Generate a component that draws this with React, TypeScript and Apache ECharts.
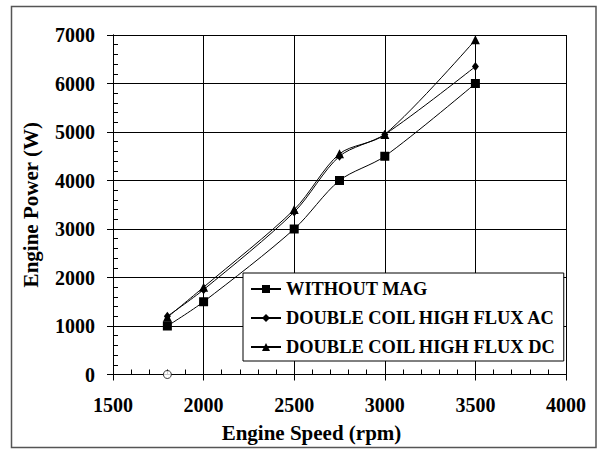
import React, { useEffect, useRef } from "react";
import * as echarts from "echarts";

const speeds = [1800, 2000, 2500, 2750, 3000, 3500];
const withoutMag = [1000, 1500, 3000, 4000, 4500, 6000];
const coilAC = [1200, 1750, 3350, 4500, 4950, 6350];
const coilDC = [1180, 1800, 3400, 4550, 4950, 6900];
const strayPoint = [[1800, 0]];
const seriesNames = ["WITHOUT MAG", "DOUBLE COIL HIGH FLUX AC", "DOUBLE COIL HIGH FLUX DC"];

const FONT = "Liberation Serif";

export default function App() {
  const ref = useRef<HTMLDivElement>(null);
  useEffect(() => {
    if (!ref.current) return;
    const chart = echarts.init(ref.current, null, { renderer: "svg" });
    const pair = (ys: number[]) => speeds.map((x, i) => [x, ys[i]]);
    const baseX = {
      type: "value",
      min: 1500,
      max: 4000,
      interval: 500,
      position: "bottom",
      axisLine: { show: true, onZero: false, lineStyle: { color: "#000", width: 1 } },
    };
    const baseY = {
      type: "value",
      min: 0,
      max: 7000,
      interval: 1000,
      position: "left",
      axisLine: { show: true, onZero: false, lineStyle: { color: "#000", width: 1 } },
    };
    const lineCommon = {
      type: "line",
      smooth: 0.3,
      lineStyle: { color: "#000", width: 1 },
      itemStyle: { color: "#000" },
      xAxisIndex: 0,
      yAxisIndex: 0,
    };
    const labelStyle = {
      fontFamily: FONT,
      fontWeight: "bold",
      fontSize: 20,
      color: "#000",
      formatter: (v: number) => String(v),
    };
    chart.setOption({
      animation: false,
      backgroundColor: "#fff",
      textStyle: { fontFamily: FONT },
      grid: { left: 113, top: 35, right: 32, bottom: 75.5, containLabel: false },
      graphic: [
        {
          type: "rect",
          shape: { x: 11.5, y: 6.5, width: 584.5, height: 441 },
          style: { fill: "none", stroke: "#555", lineWidth: 1.5 },
          silent: true,
        },
      ],
      xAxis: [
        {
          ...baseX,
          name: "Engine Speed (rpm)",
          nameLocation: "middle",
          nameGap: 48,
          nameTextStyle: {
            fontFamily: FONT,
            fontWeight: "bold",
            fontSize: 21,
            color: "#000",
            padding: [0, 56, 0, 0],
          },
          axisTick: { show: true, inside: true, length: 5, lineStyle: { color: "#000" } },
          minorTick: { show: true, splitNumber: 5, length: 5, lineStyle: { color: "#000" } },
          axisLabel: { ...labelStyle, margin: 20 },
          splitLine: { show: true, lineStyle: { color: "#000", width: 1 } },
        },
        {
          ...baseX,
          axisTick: { show: true, inside: false, length: 6, lineStyle: { color: "#000" } },
          axisLabel: { show: false },
          splitLine: { show: false },
        },
      ],
      yAxis: [
        {
          ...baseY,
          name: "Engine Power (W)",
          nameLocation: "middle",
          nameGap: 72,
          nameRotate: 90,
          nameTextStyle: { fontFamily: FONT, fontWeight: "bold", fontSize: 21, color: "#000" },
          axisTick: { show: true, inside: true, length: 5, lineStyle: { color: "#000" } },
          minorTick: { show: true, splitNumber: 5, length: 5, lineStyle: { color: "#000" } },
          axisLabel: { ...labelStyle, margin: 18 },
          splitLine: { show: true, lineStyle: { color: "#000", width: 1 } },
        },
        {
          ...baseY,
          axisTick: { show: true, inside: false, length: 6, lineStyle: { color: "#000" } },
          axisLabel: { show: false },
          splitLine: { show: false },
        },
      ],
      legend: {
        data: seriesNames,
        orient: "vertical",
        left: 243,
        top: 273,
        padding: [7, 8, 5, 7],
        itemGap: 11,
        itemWidth: 30,
        itemHeight: 10,
        backgroundColor: "#fff",
        borderColor: "#000",
        borderWidth: 1,
        borderRadius: 0,
        textStyle: { fontFamily: FONT, fontWeight: "bold", fontSize: 18.4, color: "#000" },
      },
      series: [
        { ...lineCommon, name: seriesNames[0], data: pair(withoutMag), symbol: "rect", symbolSize: 9 },
        { ...lineCommon, name: seriesNames[1], data: pair(coilAC), symbol: "diamond", symbolSize: [7, 9] },
        { ...lineCommon, name: seriesNames[2], data: pair(coilDC), symbol: "triangle", symbolSize: 9 },
        {
          type: "scatter",
          name: "point",
          data: strayPoint,
          symbol: "circle",
          symbolSize: 8,
          itemStyle: { color: "#fff", borderColor: "#000", borderWidth: 1 },
          z: 5,
        },
      ],
    });
    return () => chart.dispose();
  }, []);
  return <div ref={ref} style={{ width: 598, height: 450, position: "absolute", left: 0, top: 0 }} />;
}
